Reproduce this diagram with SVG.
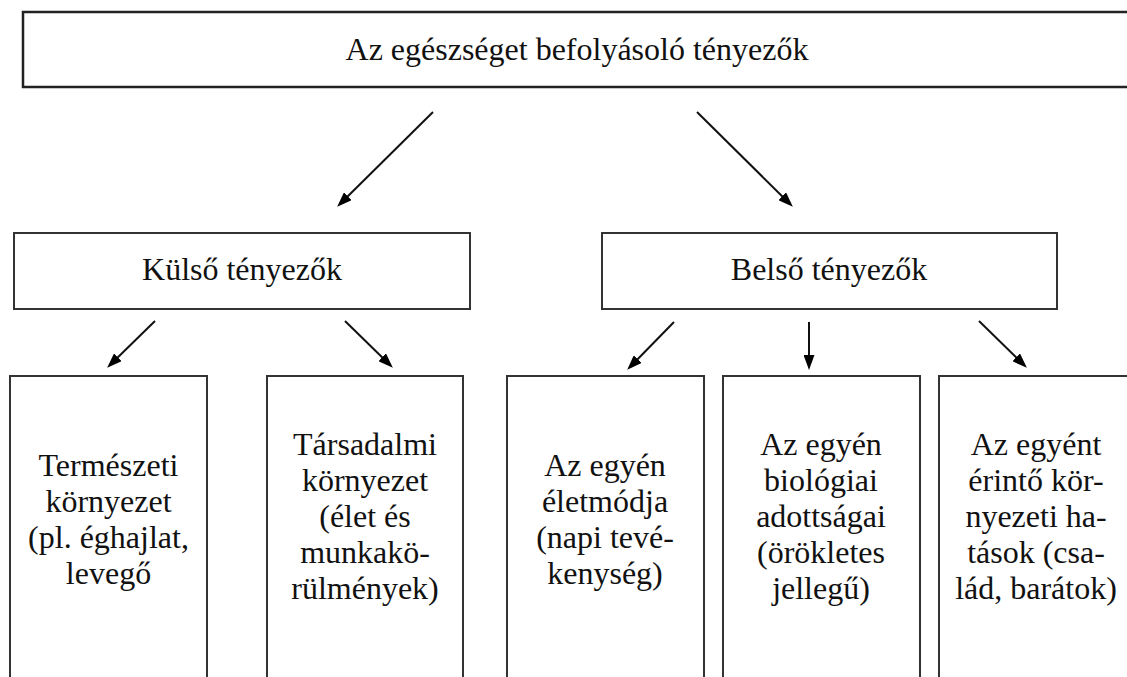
<svg xmlns="http://www.w3.org/2000/svg" width="1127" height="677" viewBox="0 0 1127 677">
<style>
  .box { fill: #fff; stroke: #333; stroke-width: 2; }
  .topbox { fill: #fff; stroke: #222; stroke-width: 2.5; }
  .t { font-family: "Liberation Serif", "Times New Roman", serif; font-size: 32px; fill: #111; text-anchor: middle; }
  .c { stroke: #111; stroke-width: 2; fill: none; marker-end: url(#ah); }
</style>
<defs>
  <marker id="ah" viewBox="0 0 15 11" refX="11" refY="5.5" markerWidth="15" markerHeight="11" markerUnits="userSpaceOnUse" orient="auto">
    <path d="M0,0 L15,5.5 L0,11 z" fill="#000"/>
  </marker>
</defs>
<rect width="1127" height="677" fill="#fff"/>
<g id="root">
  <rect class="topbox" x="23" y="12" width="1120" height="75"/>
  <text class="t" x="577" y="60">Az egészséget befolyásoló tényezők</text>
</g>
<g id="kulso">
  <rect class="box" x="14" y="233" width="456" height="76"/>
  <text class="t" x="242" y="280">Külső tényezők</text>
</g>
<g id="belso">
  <rect class="box" x="602" y="233" width="455" height="76"/>
  <text class="t" x="829" y="280">Belső tényezők</text>
</g>
<g id="termeszeti">
  <rect class="box" x="10" y="376" width="197" height="320"/>
  <text class="t" x="108.5" y="476">Természeti</text>
  <text class="t" x="108.5" y="512">környezet</text>
  <text class="t" x="108.5" y="548">(pl. éghajlat,</text>
  <text class="t" x="108.5" y="584">levegő</text>
</g>
<g id="tarsadalmi">
  <rect class="box" x="267" y="376" width="196" height="320"/>
  <text class="t" x="365" y="455">Társadalmi</text>
  <text class="t" x="365" y="491">környezet</text>
  <text class="t" x="365" y="527">(élet és</text>
  <text class="t" x="365" y="563">munkakö-</text>
  <text class="t" x="365" y="599">rülmények)</text>
</g>
<g id="eletmod">
  <rect class="box" x="507" y="376" width="197" height="320"/>
  <text class="t" x="605" y="476">Az egyén</text>
  <text class="t" x="605" y="512">életmódja</text>
  <text class="t" x="605" y="548">(napi tevé-</text>
  <text class="t" x="605" y="584">kenység)</text>
</g>
<g id="biologiai">
  <rect class="box" x="723" y="376" width="197" height="320"/>
  <text class="t" x="821" y="455">Az egyén</text>
  <text class="t" x="821" y="491">biológiai</text>
  <text class="t" x="821" y="527">adottságai</text>
  <text class="t" x="821" y="563">(örökletes</text>
  <text class="t" x="821" y="599">jellegű)</text>
</g>
<g id="kornyezeti">
  <rect class="box" x="939" y="376" width="196" height="320"/>
  <text class="t" x="1036" y="455">Az egyént</text>
  <text class="t" x="1036" y="491">érintő kör-</text>
  <text class="t" x="1036" y="527">nyezeti ha-</text>
  <text class="t" x="1036" y="563">tások (csa-</text>
  <text class="t" x="1036" y="599">lád, barátok)</text>
</g>
<g id="connectors">
  <line class="c" x1="433" y1="112" x2="340" y2="204"/>
  <line class="c" x1="697" y1="112" x2="790" y2="204"/>
  <line class="c" x1="155" y1="321" x2="110" y2="365"/>
  <line class="c" x1="345" y1="321" x2="390" y2="365"/>
  <line class="c" x1="674" y1="322" x2="630" y2="367"/>
  <line class="c" x1="809" y1="322" x2="809" y2="366"/>
  <line class="c" x1="979" y1="321" x2="1024" y2="365"/>
</g>
</svg>
